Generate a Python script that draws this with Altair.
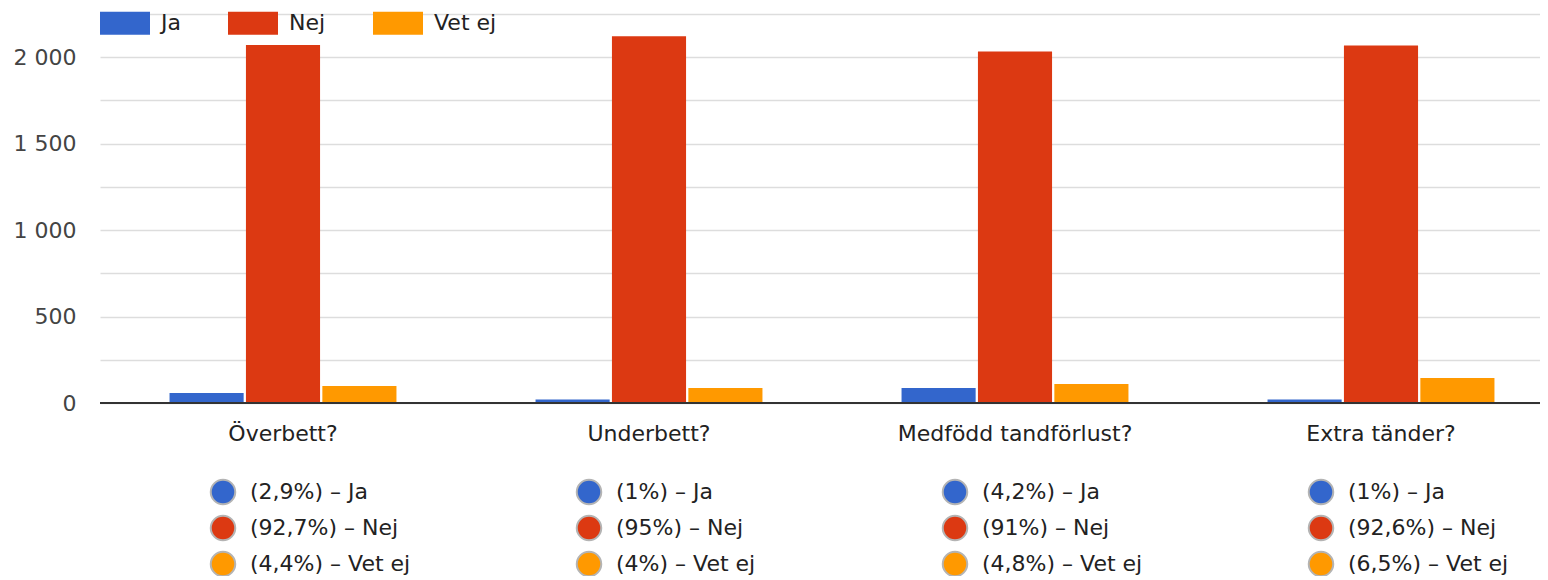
import altair as alt
import pandas as pd

# ---- data ----
categories = ["Överbett?", "Underbett?", "Medfödd tandförlust?", "Extra tänder?"]
answers = ["Ja", "Nej", "Vet ej"]
ja_counts = [58, 20, 87, 20]
nej_counts = [2070, 2122, 2033, 2068]
vetej_counts = [98, 87, 110, 145]
ja_pct = ["2,9%", "1%", "4,2%", "1%"]
nej_pct = ["92,7%", "95%", "91%", "92,6%"]
vetej_pct = ["4,4%", "4%", "4,8%", "6,5%"]
y_ticks = [0, 250, 500, 750, 1000, 1250, 1500, 1750, 2000, 2250]

colors = ["#3366cc", "#dc3912", "#ff9900"]

rows = []
for i, c in enumerate(categories):
    for a, counts, pcts in zip(answers, [ja_counts, nej_counts, vetej_counts],
                               [ja_pct, nej_pct, vetej_pct]):
        rows.append({"kategori": c, "svar": a, "antal": counts[i],
                     "etikett": f"({pcts[i]}) – {a}"})
df = pd.DataFrame(rows)
cat_df = pd.DataFrame({"kategori": categories})
zero_df = pd.DataFrame({"v": [0]})

W = 1440
H = 562
FONT = "DejaVu Sans"

x_scale = alt.Scale(domain=categories, range=[0, 1464], paddingInner=0.38, paddingOuter=0.19)
color_scale = alt.Scale(domain=answers, range=colors)
y_scale = alt.Scale(domain=[0, 2250], range=[389, 0], nice=False, zero=True)
row_scale = alt.Scale(type="point", domain=answers, range=[478, 550], padding=0)

label_expr = ("datum.value % 500 == 0 && datum.value < 2250 ? "
              "replace(format(datum.value, ','), ',', ' ') : ''")
y_axis = alt.Axis(values=y_ticks, labelExpr=label_expr, grid=True, gridColor="#dddddd",
                  gridWidth=1.5, domain=False, ticks=False, labelPadding=24,
                  labelFontSize=22, labelColor="#444444", labelFont=FONT, title=None)

x_enc = alt.X("kategori:N", scale=x_scale, axis=None, sort=categories)

bars = alt.Chart(df).mark_bar().encode(
    x=x_enc,
    xOffset=alt.XOffset("svar:N", scale=alt.Scale(domain=answers, paddingInner=0.03)),
    y=alt.Y("antal:Q", scale=y_scale, axis=y_axis),
    color=alt.Color("svar:N", scale=color_scale, legend=alt.Legend(
        title=None, orient="none", legendX=0, legendY=-16, direction="horizontal",
        symbolType="M-1,-0.46L1,-0.46L1,0.46L-1,0.46Z", symbolSize=2500,
        symbolStrokeWidth=0, symbolOpacity=1, labelFontSize=22, labelFont=FONT,
        labelColor="#222222", labelOffset=11, columnPadding=47)),
)

zero = alt.Chart(zero_df).mark_rule(color="#333333", strokeWidth=2).encode(
    y=alt.Y("v:Q", scale=y_scale, axis=y_axis),
    x=alt.value(0), x2=alt.value(W),
)

top = alt.layer(bars, zero)

cat_text = alt.Chart(cat_df).mark_text(
    fontSize=22, font=FONT, color="#222222", baseline="alphabetic", align="center"
).encode(x=x_enc, y=alt.value(427), text="kategori:N")

circles = alt.Chart(df).mark_circle(
    size=600, stroke="#b4b4b4", strokeWidth=2, opacity=1, xOffset=-60
).encode(
    x=x_enc,
    y=alt.Y("svar:N", scale=row_scale, axis=None),
    fill=alt.Fill("svar:N", scale=color_scale, legend=None),
)

texts = alt.Chart(df).mark_text(
    align="left", baseline="middle", dx=-33, fontSize=22, font=FONT, color="#222222"
).encode(
    x=x_enc,
    y=alt.Y("svar:N", scale=row_scale, axis=None),
    text="etikett:N",
)

chart = alt.layer(top, cat_text, circles, texts).resolve_scale(
    y="independent"
).properties(
    width=W, height=H,
    autosize=alt.AutoSizeParams(type="none"),
    padding={"left": 92, "top": 6, "right": 0, "bottom": 0},
    background="white",
).configure_view(stroke=None)

chart.save("out.html", embed_options={"renderer": "svg", "actions": False})
